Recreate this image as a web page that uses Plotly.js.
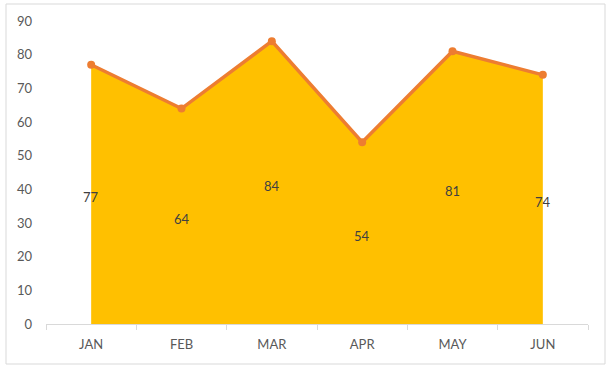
<!DOCTYPE html>
<html>
<head>
<meta charset="utf-8">
<script src="https://cdn.plot.ly/plotly-3.0.1.min.js"></script>
<style>
  html, body { margin: 0; padding: 0; background: #fff; }
  #chart { width: 612px; height: 368px; }
</style>
</head>
<body>
<div id="chart"></div>
<script>
const months = ["JAN", "FEB", "MAR", "APR", "MAY", "JUN"];
const values = [77, 64, 84, 54, 81, 74];
const yTicks = [0, 10, 20, 30, 40, 50, 60, 70, 80, 90];

const font = "Lato, 'Open Sans', 'Liberation Sans', sans-serif";

const area = {
  x: months, y: values, type: "scatter", mode: "none",
  fill: "tozeroy", fillcolor: "#FFC000", hoverinfo: "skip"
};
const line = {
  x: months, y: values, type: "scatter", mode: "lines+markers",
  line: { color: "#ED7D31", width: 3.5 },
  marker: { color: "#ED7D31", size: 8 }
};

const annotations = months.map((m, i) => ({
  x: m, y: values[i] / 2, xref: "x", yref: "y",
  text: String(values[i]), showarrow: false, yshift: -3,
  font: { family: font, size: 13, color: "#404040" }
}));

const layout = {
  width: 612, height: 368,
  margin: { l: 46, r: 24, t: 21, b: 44 },
  paper_bgcolor: "#ffffff", plot_bgcolor: "#ffffff",
  showlegend: false,
  font: { family: font, size: 13, color: "#595959" },
  xaxis: {
    type: "category", range: [-0.5, 5.5],
    showgrid: false, zeroline: false,
    showline: true, linecolor: "#d9d9d9", linewidth: 1,
    ticks: "outside", tickson: "boundaries", ticklen: 5, tickcolor: "#d9d9d9",
    ticklabelstandoff: 8,
    tickfont: { family: font, size: 13, color: "#595959" },
    fixedrange: true
  },
  yaxis: {
    range: [0, 90], tickvals: yTicks, ticktext: yTicks.map(String),
    showgrid: false, zeroline: false, showline: false, ticks: "",
    ticklabelstandoff: 13,
    tickfont: { family: font, size: 13, color: "#595959" },
    fixedrange: true
  },
  annotations: annotations,
  shapes: [{
    type: "rect", xref: "paper", yref: "paper",
    x0: (6 - 46) / 542, x1: (605 - 46) / 542,
    y0: (324 - 364) / 303, y1: (324 - 4) / 303,
    line: { color: "#d9d9d9", width: 1 }, fillcolor: "rgba(0,0,0,0)", layer: "below"
  }]
};

Plotly.newPlot("chart", [area, line], layout, { displayModeBar: false, staticPlot: true });
</script>
</body>
</html>
